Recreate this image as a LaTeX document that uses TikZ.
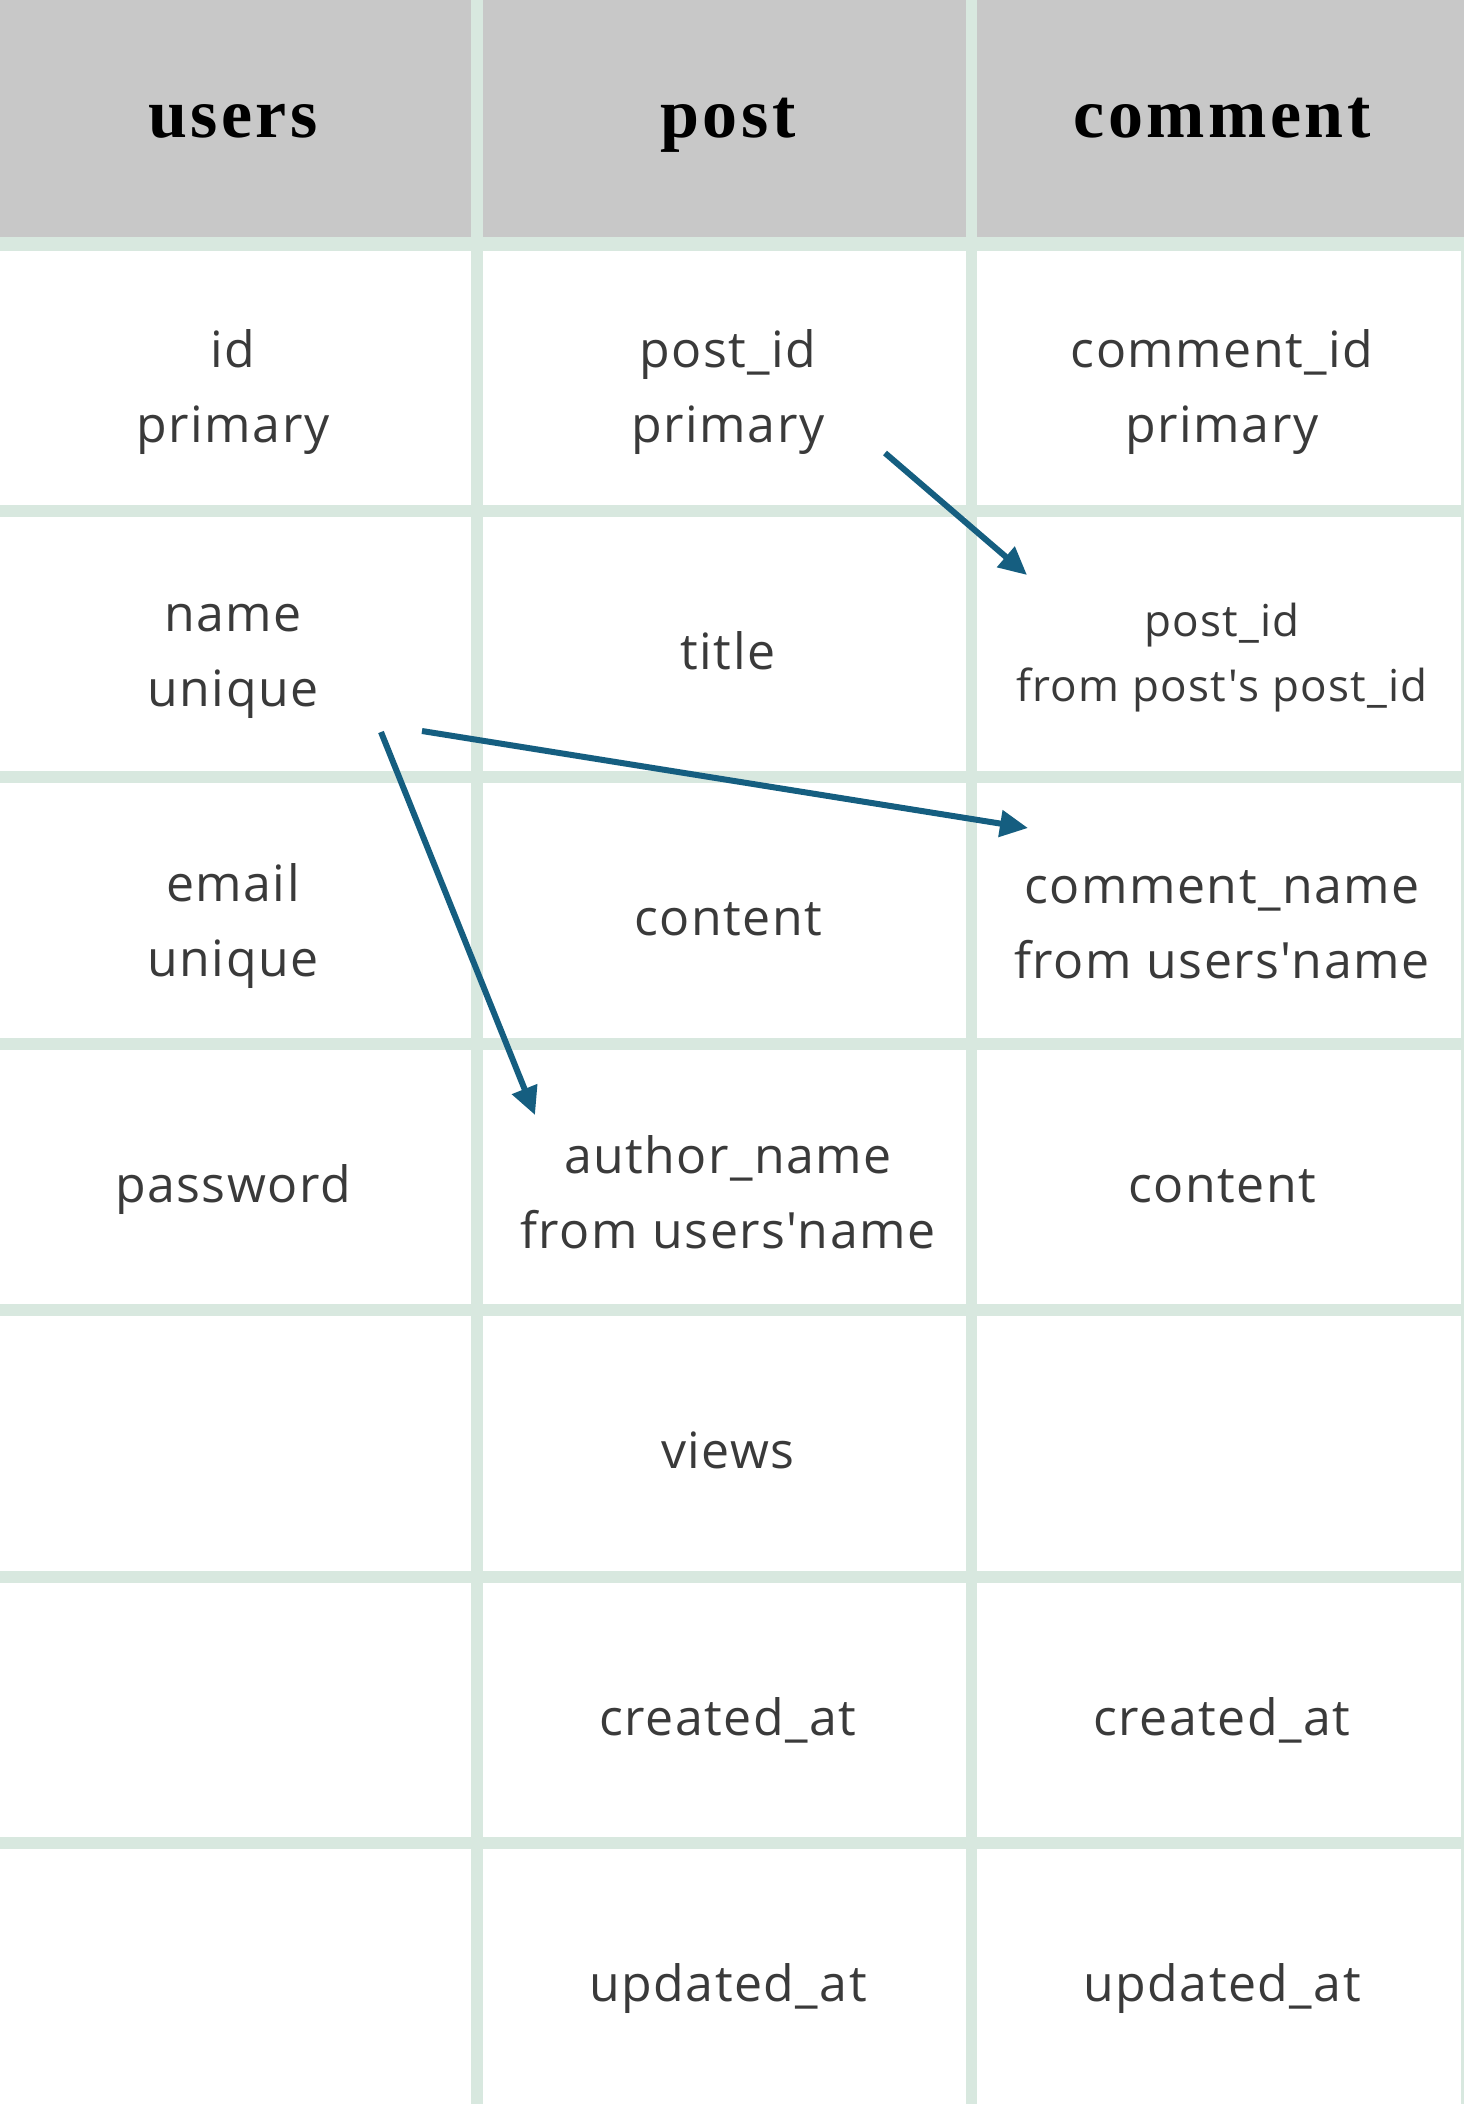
\documentclass[tikz,border=0pt]{standalone}
\usepackage{fontspec}
\usetikzlibrary{arrows.meta}
\newfontfamily\bodyfont{Open Sans}[LetterSpace=3]
\newfontfamily\headfont{Liberation Serif}[LetterSpace=5]
\definecolor{gridc}{HTML}{D8E8DF}
\definecolor{headbg}{HTML}{C8C8C8}
\definecolor{txt}{HTML}{3A3A3A}
\definecolor{arr}{HTML}{155E80}
\begin{document}
\begin{tikzpicture}[x=1pt,y=-1pt,
  cellone/.style={align=center, text=txt, inner sep=0pt,
    font=\bodyfont\fontsize{50}{75}\selectfont, text height=36pt, text depth=12pt},
  celltwo/.style={align=center, text=txt, inner sep=0pt,
    font=\bodyfont\fontsize{50}{75}\selectfont},
  cellsmall/.style={align=center, text=txt, inner sep=0pt,
    font=\bodyfont\fontsize{44}{65}\selectfont},
  headtxt/.style={anchor=base, inner sep=0pt, text=black,
    font=\headfont\bfseries\fontsize{70}{80}\selectfont},
  gridline/.style={gridc, line width=12pt},
  link/.style={arr, line width=6pt, -{Triangle[length=28pt,width=26pt]}}]
\useasboundingbox (0,0) rectangle (1464,2104);
\fill[white] (0,0) rectangle (1464,2104);
\fill[headbg] (0,0) rectangle (1464,237);
% grid
\draw[gridline, line width=14pt] (0,244) -- (1464,244);
\foreach \yy in {511,777,1044,1310,1577,1843}
  \draw[gridline] (0,\yy) -- (1464,\yy);
\draw[gridline] (477,0) -- (477,2104);
\draw[gridline, line width=11pt] (971,0) -- (971,2104);
\draw[gridline, line width=4pt] (1463,251) -- (1463,2104);
% headers
\node[headtxt] (hu) at (233,137) {users};
\node[headtxt] (hp) at (728,137) {post};
\node[headtxt] (hc) at (1222,137) {comment};
% users column
\node[celltwo] (u1) at (233,392) {id\\primary};
\node[celltwo] (u2) at (233,661) {name\\unique};
\node[celltwo] (u3) at (233,926) {email\\unique};
\node[cellone] (u4) at (233,1190) {password};
% post column
\node[celltwo] (p1) at (728,392) {post\_id\\primary};
\node[cellone] (p2) at (728,657) {title};
\node[cellone] (p3) at (728,923) {content};
\node[celltwo] (p4) at (728,1192) {author\_name\\from users'name};
\node[cellone] (p5) at (728,1456) {views};
\node[cellone] (p6) at (728,1723) {created\_at};
\node[cellone] (p7) at (728,1989) {updated\_at};
% comment column
\node[celltwo] (c1) at (1222,392) {comment\_id\\primary};
\node[cellsmall] (c2) at (1222,658) {post\_id\\from post's post\_id};
\node[celltwo] (c3) at (1222,925) {comment\_name\\from users'name};
\node[cellone] (c4) at (1222,1190) {content};
\node[cellone] (c6) at (1222,1723) {created\_at};
\node[cellone] (c7) at (1222,1989) {updated\_at};
% arrow endpoints
\coordinate (a1s) at (885,453);
\coordinate (a1e) at (1027,575);
\coordinate (a2s) at (422,731);
\coordinate (a2e) at (1028,828);
\coordinate (a3s) at (381,732);
\coordinate (a3e) at (535,1115);
\draw[link] (a1s) -- (a1e);
\draw[link] (a2s) -- (a2e);
\draw[link] (a3s) -- (a3e);
\end{tikzpicture}
\end{document}
